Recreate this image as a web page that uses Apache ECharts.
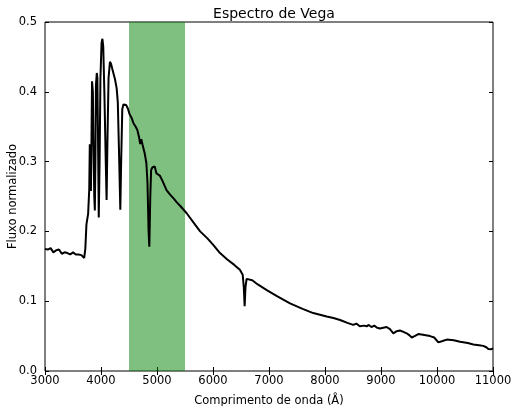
<!doctype html>
<html>
<head>
<meta charset="UTF-8">
<title>Espectro de Vega</title>
<script src="https://cdn.jsdelivr.net/npm/echarts@6/dist/echarts.min.js"></script>
<style>
  html, body { margin: 0; padding: 0; background: #fff; }
  #chart { width: 514px; height: 406px; }
</style>
</head>
<body>
<div id="chart"></div>
<script>
// comprimento de onda (Angstrom)
var wavelength = [
  3000, 3050, 3100, 3150, 3200, 3250, 3300, 3350, 3400, 3450, 3500, 3550, 3600, 3650, 3680,
  3700, 3720, 3740, 3770, 3790, 3800, 3810, 3820, 3830, 3840, 3855, 3865, 3880, 3890, 3900,
  3910, 3925, 3935, 3945, 3960, 3975, 3990, 4010, 4025, 4040, 4060, 4085, 4100, 4115, 4135,
  4160, 4180, 4210, 4250, 4280, 4300, 4320, 4345, 4360, 4380, 4400, 4450, 4480, 4510, 4550,
  4580, 4620, 4650, 4680, 4700, 4720, 4740, 4780, 4810, 4830, 4850, 4863, 4880, 4895, 4920,
  4960, 4990, 5050, 5100, 5170, 5230, 5300, 5350, 5420, 5530, 5650, 5770, 5900, 6000, 6125,
  6250, 6380, 6480, 6530, 6550, 6565, 6580, 6600, 6630, 6700, 6800, 6960, 7150, 7375, 7600,
  7790, 8030, 8150, 8270, 8400, 8505, 8560, 8620, 8700, 8744, 8780, 8830, 8880, 8930, 8982,
  9040, 9100, 9160, 9220, 9280, 9339, 9400, 9458, 9510, 9548, 9600, 9667, 9750, 9875, 9950,
  10024, 10100, 10173, 10300, 10411, 10550, 10649, 10750, 10827, 10880, 10917, 10960, 11000
];
// fluxo normalizado
var flux = [
  0.175, 0.174, 0.176, 0.170, 0.173, 0.174, 0.168, 0.170, 0.169, 0.167, 0.170, 0.167, 0.167, 0.166, 0.168,
  0.162, 0.175, 0.210, 0.225, 0.260, 0.325, 0.290, 0.258, 0.330, 0.415, 0.400, 0.330, 0.250, 0.230, 0.300,
  0.410, 0.427, 0.420, 0.350, 0.220, 0.300, 0.420, 0.470, 0.476, 0.465, 0.400, 0.300, 0.245, 0.330, 0.420,
  0.443, 0.440, 0.430, 0.418, 0.405, 0.385, 0.320, 0.231, 0.300, 0.375, 0.382, 0.381, 0.376, 0.368, 0.362,
  0.355, 0.350, 0.345, 0.335, 0.325, 0.332, 0.325, 0.312, 0.298, 0.270, 0.200, 0.178, 0.250, 0.288, 0.292,
  0.293, 0.283, 0.280, 0.272, 0.259, 0.253, 0.247, 0.242, 0.236, 0.226, 0.213, 0.200, 0.190, 0.181, 0.169,
  0.160, 0.152, 0.145, 0.138, 0.120, 0.093, 0.120, 0.132, 0.134, 0.130, 0.124, 0.116, 0.107, 0.097, 0.089,
  0.083, 0.078, 0.076, 0.073, 0.069, 0.066, 0.068, 0.064, 0.065, 0.064, 0.066, 0.063, 0.065, 0.062, 0.061,
  0.062, 0.063, 0.060, 0.054, 0.057, 0.058, 0.056, 0.054, 0.051, 0.048, 0.050, 0.053, 0.052, 0.050, 0.048,
  0.041, 0.043, 0.045, 0.044, 0.042, 0.040, 0.038, 0.037, 0.036, 0.034, 0.0315, 0.031, 0.0325
];
// faixa destacada (filtro V)
var bandRange = [4500, 5500];

var font = 'DejaVu Sans';

var points = [];
for (var i = 0; i < wavelength.length; i++) {
  points.push([wavelength[i], flux[i]]);
}

var tickIn = { show: true, inside: true, length: 4, lineStyle: { color: '#000' } };

var option = {
  animation: false,
  title: {
    text: 'Espectro de Vega',
    left: 269, top: 2, textAlign: 'center',
    textStyle: { fontFamily: font, fontSize: 14, fontWeight: 'normal', color: '#000' }
  },
  grid: {
    left: 45, right: 21, top: 22, bottom: 35,
    outerBoundsMode: 'none',
    show: true, borderColor: '#000', borderWidth: 1
  },
  xAxis: [{
    type: 'value', min: 3000, max: 11000, interval: 1000,
    name: 'Comprimento de onda (Å)', nameLocation: 'middle', nameGap: 24, nameMoveOverlap: false,
    nameTextStyle: { fontFamily: font, fontSize: 11.5, color: '#000' },
    axisLine: { show: false }, axisTick: tickIn, splitLine: { show: false },
    axisLabel: { fontFamily: font, fontSize: 11.5, color: '#000', margin: 4,
      formatter: function(v) { return String(v); } }
  }, {
    type: 'value', position: 'top', min: 3000, max: 11000, interval: 1000,
    axisLine: { show: false }, axisTick: tickIn, splitLine: { show: false },
    axisLabel: { show: false }
  }],
  yAxis: [{
    type: 'value', min: 0, max: 0.5, interval: 0.1,
    name: 'Fluxo normalizado', nameLocation: 'middle', nameGap: 26, nameRotate: 90, nameMoveOverlap: false,
    nameTextStyle: { fontFamily: font, fontSize: 11.5, color: '#000' },
    axisLine: { show: false }, axisTick: tickIn, splitLine: { show: false },
    axisLabel: { fontFamily: font, fontSize: 11.5, color: '#000', margin: 8,
      formatter: function(v) { return v.toFixed(1); } }
  }, {
    type: 'value', position: 'right', min: 0, max: 0.5, interval: 0.1,
    axisLine: { show: false }, axisTick: tickIn, splitLine: { show: false },
    axisLabel: { show: false }
  }],
  series: [{
    type: 'line',
    data: points,
    showSymbol: false,
    lineStyle: { color: '#000', width: 2 },
    z: 3,
    markArea: {
      silent: true,
      itemStyle: { color: 'rgba(0,128,0,0.5)' },
      data: [[{ xAxis: bandRange[0] }, { xAxis: bandRange[1] }]]
    }
  }]
};

var chart = echarts.init(document.getElementById('chart'), null, { renderer: 'canvas' });
chart.setOption(option);
</script>
</body>
</html>
